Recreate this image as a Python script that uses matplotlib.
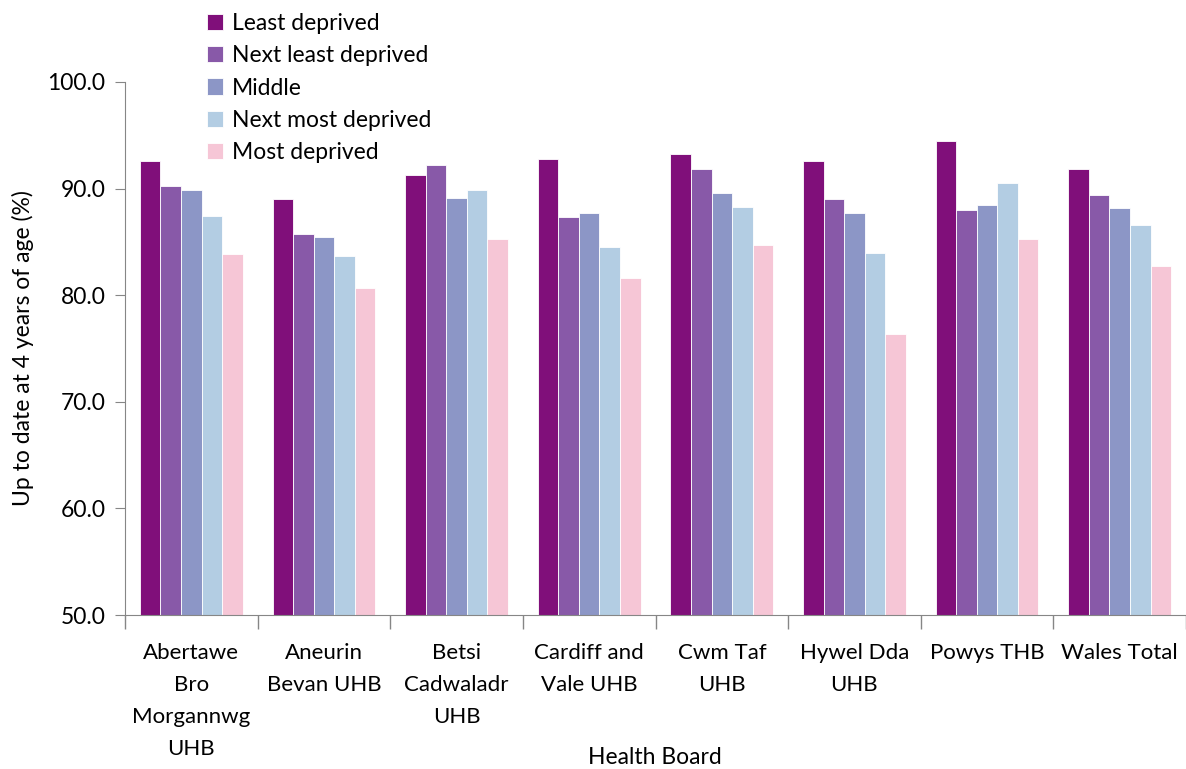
import numpy as np
import matplotlib
matplotlib.use('Agg')
import matplotlib.pyplot as plt
from matplotlib.ticker import FormatStrFormatter, FixedLocator, NullFormatter

boards = ['Abertawe\nBro\nMorgannwg\nUHB', 'Aneurin\nBevan UHB', 'Betsi\nCadwaladr\nUHB',
          'Cardiff and\nVale UHB', 'Cwm Taf\nUHB', 'Hywel Dda\nUHB', 'Powys THB', 'Wales Total']
groups = ['Least deprived', 'Next least deprived', 'Middle', 'Next most deprived', 'Most deprived']

least = [92.6, 89.0, 91.3, 92.8, 93.2, 92.6, 94.5, 91.8]
next_least = [90.2, 85.7, 92.2, 87.3, 91.8, 89.0, 88.0, 89.4]
middle = [89.9, 85.5, 89.1, 87.7, 89.6, 87.7, 88.5, 88.2]
next_most = [87.4, 83.7, 89.9, 84.5, 88.3, 84.0, 90.5, 86.6]
most = [83.9, 80.7, 85.3, 81.6, 84.7, 76.4, 85.3, 82.7]

colors = ['#800f7a', '#8859a8', '#8c96c6', '#b3cde3', '#f6c6d6']


def main():
    plt.rcParams['font.family'] = ['Lato', 'DejaVu Sans']
    fig = plt.figure(figsize=(11.86, 7.69), dpi=100)
    ax = fig.add_axes([125 / 1186, 1 - 615 / 769, 1061 / 1186, 533 / 769])

    series = [least, next_least, middle, next_most, most]
    x = np.arange(len(boards))
    w = 0.155
    for i, (vals, name) in enumerate(zip(series, groups)):
        ax.bar(x + (i - 2) * w, np.array(vals) - 50, w, bottom=50, color=colors[i],
               edgecolor='white', linewidth=0.6, label=name)

    ax.set_xlim(-0.5, len(boards) - 0.5)
    ax.set_ylim(50, 100)
    ax.set_yticks(np.arange(50, 101, 10))
    ax.yaxis.set_major_formatter(FormatStrFormatter('%.1f'))

    ax.xaxis.set_major_locator(FixedLocator(np.arange(-0.5, len(boards), 1)))
    ax.xaxis.set_major_formatter(NullFormatter())
    ax.xaxis.set_minor_locator(FixedLocator(x))
    ax.set_xticklabels(boards, minor=True)
    ax.tick_params(axis='x', which='major', length=10, color='#868686', width=1)
    ax.tick_params(axis='x', which='minor', length=0, pad=20, labelsize=16)
    ax.tick_params(axis='y', length=7, color='#868686', labelsize=16.5, pad=7)
    for lab in ax.get_xticklabels(minor=True):
        lab.set_linespacing(1.75)

    for s in ['top', 'right']:
        ax.spines[s].set_visible(False)
    for s in ['left', 'bottom']:
        ax.spines[s].set_color('#868686')

    ax.set_ylabel('Up to date at 4 years of age (%)', fontsize=16.5, labelpad=10)
    fig.text(655 / 1186, 1 - 757 / 769, 'Health Board', fontsize=16.5, ha='center', va='center')

    ax.legend(loc='upper left', bbox_to_anchor=(194 / 1186, 1.0), bbox_transform=fig.transFigure,
              frameon=False, fontsize=16.5, handlelength=0.7, handleheight=0.7,
              handletextpad=0.4, labelspacing=0.5, borderaxespad=0.15)

    fig.savefig('out.png', dpi=100)


if __name__ == '__main__':
    main()
